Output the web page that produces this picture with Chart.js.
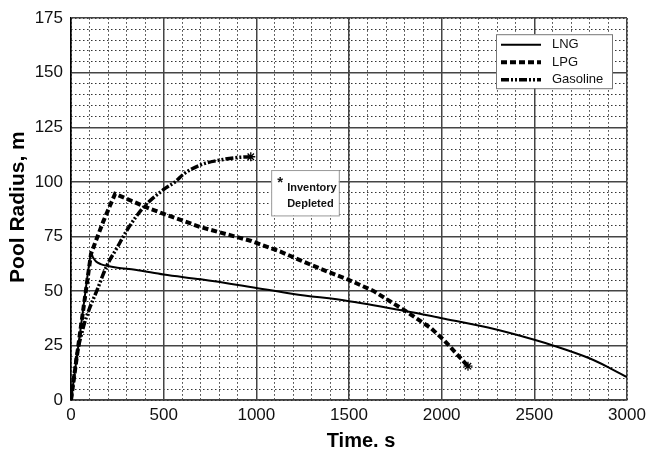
<!DOCTYPE html>
<html>
<head>
<meta charset="utf-8">
<script src="https://cdn.jsdelivr.net/npm/chart.js@4.4.1/dist/chart.umd.min.js"></script>
<style>
  body { margin: 0; background: #fff; }
  #wrap { width: 653px; height: 449px; position: relative; }
</style>
</head>
<body>
<div id="wrap"><canvas id="poolChart"></canvas></div>
<script>
// values
const lngTime = [0, 54, 100, 108, 118, 135, 160, 193, 250, 346, 500, 700, 968, 1200, 1500, 1805, 2000, 2250, 2500, 2600, 2800, 2900, 3000];
const lngRadius = [0, 34, 63.5, 67.5, 65.5, 63.5, 62.3, 61.5, 60.6, 59.7, 57.5, 55.3, 51.8, 48.6, 45.3, 40.8, 37.5, 33.2, 27.6, 25, 19, 15, 10.5];

const lpgTime = [0, 54, 108, 130, 175, 210, 238, 427, 697, 968, 1130, 1238, 1350, 1500, 1632, 1805, 1941, 2013, 2142];
const lpgRadius = [0, 34, 67, 72, 82, 89, 94.5, 87.6, 79.3, 73, 68, 64, 60, 55, 50, 40.8, 33, 27.4, 15.5];

const gasTime = [0, 31, 67, 100, 139, 193, 250, 301, 391, 500, 562, 607, 697, 805, 904, 970];
const gasRadius = [0, 20, 33.5, 42, 50, 61.5, 70, 77.7, 88.3, 96.5, 100, 103.5, 107.7, 110, 111.2, 111.5];

const seriesNames = ["LNG", "LPG", "Gasoline"];
const xTicks = [0, 500, 1000, 1500, 2000, 2500, 3000];
const yTicks = [0, 25, 50, 75, 100, 125, 150, 175];

const FONT = "'Liberation Sans', Arial, Helvetica, sans-serif";
Chart.defaults.font.family = FONT;
Chart.defaults.color = "#111";

const toPoints = (xs, ys) => xs.map((x, i) => ({ x: x, y: ys[i] }));
// asterisk only on the last point ("Inventory Depleted")
const lastStar = (xs) => xs.map((x, i) => (i === xs.length - 1 ? 4.5 : 0));

// custom legend, annotation box and axis titles
const decorations = {
    id: "decorations",
    afterDraw(chart) {
        const ctx = chart.ctx;
        const area = chart.chartArea;
        const xs = chart.scales.x;
        const ys = chart.scales.y;

        // legend box
        ctx.save();
        const lx = area.right - 131, ly = area.top + 16, lw = 116, lh = 54;
        ctx.fillStyle = "#fff";
        ctx.fillRect(lx, ly, lw, lh);
        ctx.strokeStyle = "#777";
        ctx.lineWidth = 1;
        ctx.strokeRect(lx + 0.5, ly + 0.5, lw, lh);
        chart.data.datasets.forEach((ds, i) => {
            const yy = ly + 10.5 + i * 17.5;
            ctx.save();
            ctx.strokeStyle = "#000";
            ctx.lineWidth = ds.borderWidth;
            ctx.setLineDash(ds.borderDash || []);
            ctx.beginPath();
            ctx.moveTo(lx + 5, yy);
            ctx.lineTo(lx + 45, yy);
            ctx.stroke();
            ctx.restore();
            ctx.fillStyle = "#111";
            ctx.font = "13px " + FONT;
            ctx.textBaseline = "middle";
            ctx.textAlign = "left";
            ctx.fillText(ds.label, lx + 56, yy);
        });
        ctx.restore();

        // "Inventory Depleted" box
        ctx.save();
        const ax = xs.getPixelForValue(1080), ay = ys.getPixelForValue(105.4);
        const aw = xs.getPixelForValue(1445) - ax, ah = ys.getPixelForValue(84.6) - ay;
        ctx.fillStyle = "#fff";
        ctx.fillRect(ax, ay, aw, ah);
        ctx.strokeStyle = "#999";
        ctx.lineWidth = 1;
        ctx.strokeRect(ax + 0.5, ay + 0.5, aw, ah);
        ctx.fillStyle = "#111";
        ctx.font = "bold 15px " + FONT;
        ctx.textAlign = "left";
        ctx.textBaseline = "middle";
        ctx.fillText("*", ax + 6, ay + 13);
        ctx.font = "bold 11px " + FONT;
        ctx.fillText("Inventory", ax + 16, ay + 17.5);
        ctx.fillText("Depleted", ax + 16, ay + 34);
        ctx.restore();

        // axis titles
        ctx.save();
        ctx.fillStyle = "#000";
        ctx.font = "bold 20px " + FONT;
        ctx.textAlign = "center";
        ctx.textBaseline = "alphabetic";
        ctx.fillText("Time. s", (area.left + area.right) / 2 + 12, 447);
        ctx.translate(24, (area.top + area.bottom) / 2 - 2);
        ctx.rotate(-Math.PI / 2);
        ctx.font = "bold 21px " + FONT;
        ctx.fillText("Pool Radius, m", 0, 0);
        ctx.restore();
    }
};

const plainLabel = (v) => String(v);

const ctx = document.getElementById("poolChart").getContext("2d");
new Chart(ctx, {
    type: "line",
    data: {
        datasets: [
            {
                label: seriesNames[0],
                data: toPoints(lngTime, lngRadius),
                borderColor: "#000",
                borderWidth: 2,
                pointRadius: 0,
                cubicInterpolationMode: "monotone",
            },
            {
                label: seriesNames[1],
                data: toPoints(lpgTime, lpgRadius),
                borderColor: "#000",
                borderWidth: 4,
                borderDash: [6, 3],
                pointStyle: "star",
                pointRadius: lastStar(lpgTime),
                pointBorderColor: "#000",
                pointBorderWidth: 1.3,
                tension: 0,
            },
            {
                label: seriesNames[2],
                data: toPoints(gasTime, gasRadius),
                borderColor: "#000",
                borderWidth: 3.5,
                borderDash: [8, 2, 2, 2, 2, 2],
                pointStyle: "star",
                pointRadius: lastStar(gasTime),
                pointBorderColor: "#000",
                pointBorderWidth: 1.3,
                cubicInterpolationMode: "monotone",
            },
        ],
    },
    options: {
        responsive: true,
        maintainAspectRatio: false,
        animation: false,
        layout: { padding: { top: 17, right: 26, left: 0, bottom: 0 } },
        plugins: {
            legend: { display: false },
            tooltip: { enabled: false },
        },
        scales: {
            x: {
                type: "linear",
                min: xTicks[0],
                max: xTicks[xTicks.length - 1],
                afterBuildTicks: (s) => { s.ticks = xTicks.map((v) => ({ value: v })); },
                ticks: { font: { size: 17 }, color: "#111", padding: 5, maxRotation: 0, callback: plainLabel },
                grid: { color: "#444", lineWidth: 1.5, drawTicks: false, z: 0 },
                border: { color: "#000", width: 1.5 },
                afterFit: (s) => { s.height = 49; },
            },
            xMinor: {
                type: "linear",
                position: "bottom",
                min: 0,
                max: 3000,
                ticks: { stepSize: 100, display: false, autoSkip: false },
                grid: { color: "#333", lineWidth: 1, drawTicks: false, z: -1 },
                border: { display: false, dash: [1.5, 2.5] },
                afterFit: (s) => { s.height = 0; },
            },
            y: {
                type: "linear",
                min: yTicks[0],
                max: yTicks[yTicks.length - 1],
                afterBuildTicks: (s) => { s.ticks = yTicks.map((v) => ({ value: v })); },
                ticks: { font: { size: 17 }, color: "#111", padding: 8, callback: plainLabel },
                grid: { color: "#444", lineWidth: 1.5, drawTicks: false, z: 0 },
                border: { color: "#000", width: 1.5 },
                afterFit: (s) => { s.width = 71; },
            },
            yMinor: {
                type: "linear",
                position: "left",
                min: 0,
                max: 175,
                ticks: { stepSize: 5, display: false, autoSkip: false },
                grid: { color: "#333", lineWidth: 1, drawTicks: false, z: -1 },
                border: { display: false, dash: [1.5, 2.5] },
                afterFit: (s) => { s.width = 0; },
            },
        },
    },
    plugins: [decorations],
});
</script>
</body>
</html>
